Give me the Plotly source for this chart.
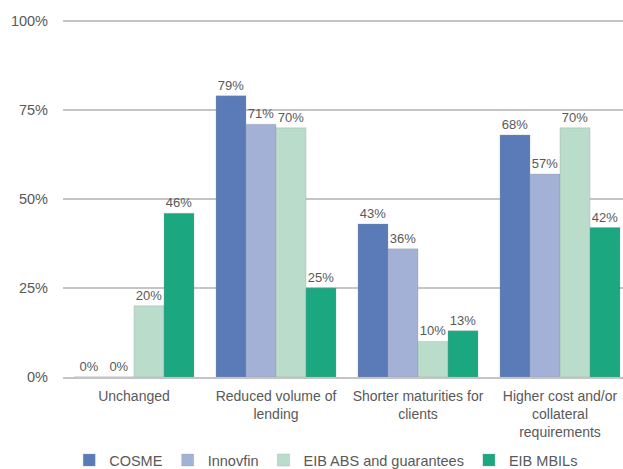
import plotly.graph_objects as go

categories = ["Unchanged", "Reduced volume of<br>lending", "Shorter maturities for<br>clients",
              "Higher cost and/or<br>collateral<br>requirements"]
series_names = ["COSME", "Innovfin", "EIB ABS and guarantees", "EIB MBILs"]
cosme = [0, 79, 43, 68]
innovfin = [0, 71, 36, 57]
eib_abs = [20, 70, 10, 70]
eib_mbils = [46, 25, 13, 42]
colors = ["#5A7BB8", "#A3B1D6", "#BADCCB", "#1BA780"]
y_ticks = [0, 25, 50, 75, 100]

fig = go.Figure()
for name, vals, col in zip(series_names, [cosme, innovfin, eib_abs, eib_mbils], colors):
    fig.add_trace(go.Bar(
        name=name, x=categories, y=vals,
        marker=dict(color=col, line=dict(color="rgba(150,150,150,0.5)", width=0.6)),
        text=[f"{v}%" for v in vals], textposition="outside", cliponaxis=False,
        textfont=dict(family="Liberation Sans, Arial", size=13, color="#595959"),
    ))

fig.update_layout(
    width=623, height=469,
    margin=dict(l=63, r=0, t=20, b=92, autoexpand=False),
    paper_bgcolor="white", plot_bgcolor="white",
    barmode="group", bargap=0.155, bargroupgap=0,
    font=dict(family="Liberation Sans, Arial", size=14, color="#595959"),
    showlegend=True,
    legend=dict(orientation="h", x=0.47, xanchor="center", y=-0.188, yanchor="top",
                font=dict(size=14.5, color="#595959"), itemwidth=30, tracegroupgap=0),
    xaxis=dict(range=[-0.5, 3.5 - 8/142], showgrid=False, showline=True, automargin=False,
               linecolor="#C4C4C4", linewidth=2, ticks="", tickfont=dict(size=14),
               ticklabelstandoff=5),
    yaxis=dict(range=[0, 100.3], tickvals=y_ticks, ticktext=[f"{t}%" for t in y_ticks],
               showgrid=True, gridcolor="#C4C4C4", gridwidth=1.5, zeroline=False,
               showline=False, ticks="", ticklabelstandoff=14, automargin=False,
               tickfont=dict(size=14.5)),
)
fig.write_html("out.html")
